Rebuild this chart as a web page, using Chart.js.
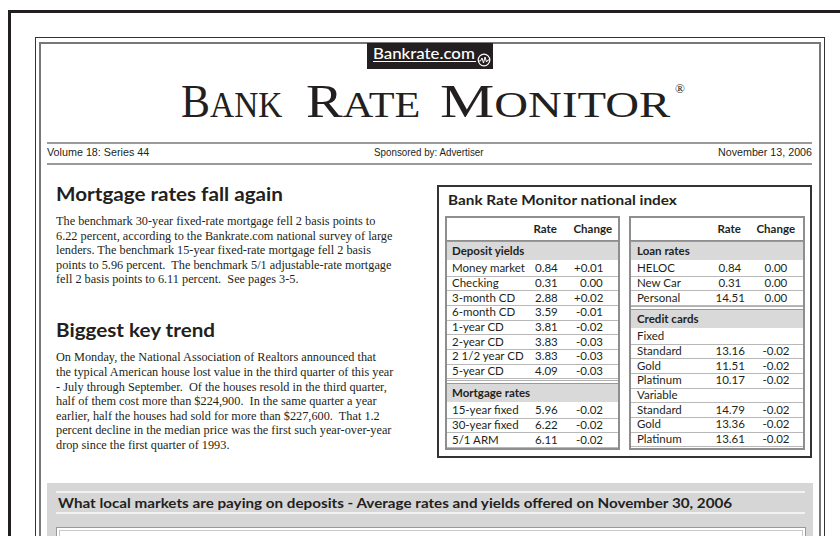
<!DOCTYPE html>
<html><head><meta charset="utf-8">
<script src="https://cdn.jsdelivr.net/npm/chart.js@4.4.1/dist/chart.umd.min.js"></script>
<style>
html,body{margin:0;padding:0;width:840px;height:536px;overflow:hidden;background:#fff;}
.a{position:absolute;white-space:pre;}
.sans{font-family:Lato,"Open Sans",sans-serif;}
.serif{font-family:"Liberation Serif","Times New Roman",serif;}
.narrow{font-family:"Liberation Sans Narrow","Liberation Sans",sans-serif;}
</style></head>
<body>
<div id="page" style="position:relative;width:840px;height:536px;"></div>
<script>
// ---------- DATA ----------
const headerLeft = "Volume 18: Series 44";
const headerCenter = "Sponsored by: Advertiser";
const headerRight = "November 13, 2006";
const story1Title = "Mortgage rates fall again";
const story1Lines = [
  "The benchmark 30-year fixed-rate mortgage fell 2 basis points to",
  "6.22 percent, according to the Bankrate.com national survey of large",
  "lenders. The benchmark 15-year fixed-rate mortgage fell 2 basis",
  "points to 5.96 percent.  The benchmark 5/1 adjustable-rate mortgage",
  "fell 2 basis points to 6.11 percent.  See pages 3-5."
];
const story2Title = "Biggest key trend";
const story2Lines = [
  "On Monday, the National Association of Realtors announced that",
  "the typical American house lost value in the third quarter of this year",
  "- July through September.  Of the houses resold in the third quarter,",
  "half of them cost more than $224,900.  In the same quarter a year",
  "earlier, half the houses had sold for more than $227,600.  That 1.2",
  "percent decline in the median price was the first such year-over-year",
  "drop since the first quarter of 1993."
];
const indexTitle = "Bank Rate Monitor national index";
const columnHeaders = ["Rate", "Change"];
const depositLabels = ["Money market","Checking","3-month CD","6-month CD","1-year CD","2-year CD","2 1/2 year CD","5-year CD"];
const depositRates = [0.84,0.31,2.88,3.59,3.81,3.83,3.83,4.09];
const depositChanges = [0.01,0.00,0.02,-0.01,-0.02,-0.03,-0.03,-0.03];
const mortgageLabels = ["15-year fixed","30-year fixed","5/1 ARM"];
const mortgageRates = [5.96,6.22,6.11];
const mortgageChanges = [-0.02,-0.02,-0.02];
const loanLabels = ["HELOC","New Car","Personal"];
const loanRates = [0.84,0.31,14.51];
const loanChanges = [0.00,0.00,0.00];
const fixedCardLabels = ["Standard","Gold","Platinum"];
const fixedCardRates = [13.16,11.51,10.17];
const fixedCardChanges = [-0.02,-0.02,-0.02];
const variableCardLabels = ["Standard","Gold","Platinum"];
const variableCardRates = [14.79,13.36,13.61];
const variableCardChanges = [-0.02,-0.02,-0.02];
const bottomTitle = "What local markets are paying on deposits - Average rates and yields offered on November 30, 2006";

// ---------- HELPERS ----------
const page = document.getElementById('page');
function box(x,y,w,h,style){const d=document.createElement('div');d.style.cssText=`position:absolute;left:${x}px;top:${y}px;width:${w}px;height:${h}px;`+(style||'');page.appendChild(d);return d;}
function txt(s,x,y,cls,style){const d=document.createElement('div');d.className='a '+cls;d.textContent=s;d.style.cssText+=`left:${x}px;top:${y}px;`+(style||'');page.appendChild(d);return d;}
function fit(el,w,origin){const s=w/el.offsetWidth;el.style.transformOrigin=(origin||'left')+' center';el.style.transform=`scaleX(${s})`;return s;}
function hline(x1,x2,y,color,th){return box(x1,y,x2-x1,th||1,`background:${color};`);}
const fmtRate=v=>v.toFixed(2);
const fmtChg=v=>v>0?'+'+v.toFixed(2):(v<0?'-'+Math.abs(v).toFixed(2):'0.00');

// ---------- FRAMES ----------
box(8,10,840,540,'box-sizing:border-box;border:3px solid #231f20;');
box(35,37,790,520,'box-sizing:border-box;border:1px solid #333;');
box(39,42,782,520,'box-sizing:border-box;border:2px solid #777;');

// ---------- LOGO ----------
box(367,43,126,26,'background:#231f20;');
const logo=txt("Bankrate.com",373,44,'sans','color:#fff;font-size:15px;line-height:18px;font-weight:500;');
fit(logo,102);
hline(373,476,61,'#fff',1);
const svgNS='http://www.w3.org/2000/svg';
const svg=document.createElementNS(svgNS,'svg');
svg.setAttribute('width','14');svg.setAttribute('height','14');
svg.style.cssText='position:absolute;left:477px;top:53px;';
svg.innerHTML='<circle cx="7" cy="7" r="5.8" fill="none" stroke="#fff" stroke-width="1.2"/><polyline points="1.5,8 3.5,8 5,5 6.5,10 8,4 9.5,9 11,7 12.5,7" fill="none" stroke="#fff" stroke-width="1"/>';
page.appendChild(svg);

// ---------- TITLE ----------
function titleWord(big,small,x0,x1){
  const d=document.createElement('div');d.className='a serif';
  d.style.cssText+=`left:${x0}px;top:78px;font-size:47px;line-height:47px;color:#231f20;`;
  d.innerHTML=`<span>${big}</span><span style="font-size:36px;">${small}</span>`;
  page.appendChild(d);fit(d,x1-x0);return d;
}
titleWord('B','ANK',181,282);
titleWord('R','ATE',306,420);
titleWord('M','ONITOR',440,670);
txt('®',675,82,'serif','font-size:13px;line-height:13px;color:#231f20;');

// ---------- HEADER ROW ----------
hline(47,812,142,'#9a9a9a',1.5);
hline(47,812,163,'#9a9a9a',1.5);
const h1=txt(headerLeft,47,146,'narrow','font-size:11.5px;line-height:13px;color:#231f20;');fit(h1,102);
const h2=txt(headerCenter,374,146,'narrow','font-size:11.5px;line-height:13px;color:#231f20;');fit(h2,110);
const h3=txt(headerRight,718,146,'narrow','font-size:11.5px;line-height:13px;color:#231f20;');fit(h3,94);

// ---------- LEFT STORIES ----------
const t1=txt(story1Title,56,183,'sans','font-size:19px;line-height:22px;font-weight:700;color:#231f20;');
const ts=fit(t1,227);
const t2=txt(story2Title,56,319,'sans','font-size:19px;line-height:22px;font-weight:700;color:#231f20;');
t2.style.transformOrigin='left center';t2.style.transform=`scaleX(${ts})`;
const bodyStyle='font-size:13px;line-height:15px;color:#231f20;';
const probe=txt(story2Lines[1],56,0,'serif',bodyStyle);
const bs=337/probe.offsetWidth; probe.remove();
story1Lines.forEach((s,i)=>{const d=txt(s,56,222-8.6+i*14.5,'serif',bodyStyle);d.style.transformOrigin='left center';d.style.transform=`scaleX(${bs})`;});
story2Lines.forEach((s,i)=>{const d=txt(s,56,358-8.6+i*14.6,'serif',bodyStyle);d.style.transformOrigin='left center';d.style.transform=`scaleX(${bs})`;});

// ---------- NATIONAL INDEX BOX ----------
box(437,185,375,273,'box-sizing:border-box;border:2px solid #333;');
const it=txt(indexTitle,448,191,'sans','font-size:14px;line-height:17px;font-weight:700;color:#231f20;');fit(it,229);

const RH=14.65;
const cellFont='font-size:11.5px;line-height:14px;color:#231f20;';
function cell(s,x,yc,align,bold){
  const d=txt(s,0,yc-7,'sans',cellFont+(bold?'font-weight:700;':''));
  const w=d.offsetWidth;
  let left=x; if(align==='right')left=x-w; else if(align==='center')left=x-w/2;
  d.style.left=left+'px'; return d;
}
function subTable(x0,x1,cols,sections){
  box(x0,216,x1-x0,234,'box-sizing:border-box;border:2px solid #8e8e8e;background:#fff;');
  const il=x0+2, ir=x1-2;
  cell(columnHeaders[0],cols.rateHdr,229,'center',true);
  cell(columnHeaders[1],cols.chgHdr,229,'center',true);
  hline(il,ir,240,'#8e8e8e',1.5);
  sections.forEach(sec=>{
    if(sec.gapLine!==undefined) hline(il,ir,sec.gapLine,'#b0b0b0',1);
    box(il,sec.bandTop,ir-il,sec.bandBot-sec.bandTop,'background:#d9d9d9;border-top:1px solid #9a9a9a;box-sizing:border-box;');
    cell(sec.title,cols.label,(sec.bandTop+sec.bandBot)/2+0.5,'left',true);
    let y=sec.bandBot+1;
    sec.rows.forEach(r=>{
      const yc=y+RH/2;
      cell(r.label,cols.label,yc,'left',false);
      if(r.rate!==undefined){
        cell(fmtRate(r.rate),cols.rate,yc,cols.rateAlign,false);
        cell(fmtChg(r.chg),cols.chg,yc,cols.chgAlign,false);
      }
      y+=RH;
      hline(il,ir,y,'#b8b8b8',1);
    });
  });
}
const zip=(L,R,C)=>L.map((l,i)=>({label:l,rate:R[i],chg:C[i]}));
subTable(445,620,{label:452,rate:535,rateAlign:'left',chg:603,chgAlign:'right',rateHdr:545,chgHdr:593},[
  {title:'Deposit yields',bandTop:241,bandBot:260,rows:zip(depositLabels,depositRates,depositChanges)},
  {title:'Mortgage rates',gapLine:380,bandTop:383,bandBot:402,rows:zip(mortgageLabels,mortgageRates,mortgageChanges)}
]);
subTable(629,805,{label:637,rate:730,rateAlign:'center',chg:776,chgAlign:'center',rateHdr:729,chgHdr:776},[
  {title:'Loan rates',bandTop:241,bandBot:260,rows:zip(loanLabels,loanRates,loanChanges)},
  {title:'Credit cards',gapLine:306,bandTop:309,bandBot:328,rows:[{label:'Fixed'}].concat(zip(fixedCardLabels,fixedCardRates,fixedCardChanges),[{label:'Variable'}],zip(variableCardLabels,variableCardRates,variableCardChanges))}
]);

// ---------- BOTTOM PANEL ----------
box(47,483,766,60,'background:#d6d6d6;');
hline(56,805,491,'#f2f2f2',1.5);
hline(56,805,512,'#f2f2f2',1.5);
const bt=txt(bottomTitle,58,494.5,'sans','font-size:13.5px;line-height:16px;font-weight:700;color:#231f20;');fit(bt,674);
const cb=box(56,527,750,20,'box-sizing:border-box;border:1px solid #9a9a9a;background:#fff;');
const inner=box(59,530,744,14,'box-sizing:border-box;border:1px solid #c8c8c8;background:#fff;');
const cv=document.createElement('canvas');cv.width=742;cv.height=12;cv.style.cssText='display:block;width:742px;height:12px;';
inner.appendChild(cv);
new Chart(cv.getContext('2d'),{type:'bar',data:{labels:depositLabels,datasets:[]},
  options:{animation:false,responsive:false,events:[],plugins:{legend:{display:false},tooltip:{enabled:false}},
  scales:{x:{display:false},y:{display:false}}}});
</script>
</body></html>
